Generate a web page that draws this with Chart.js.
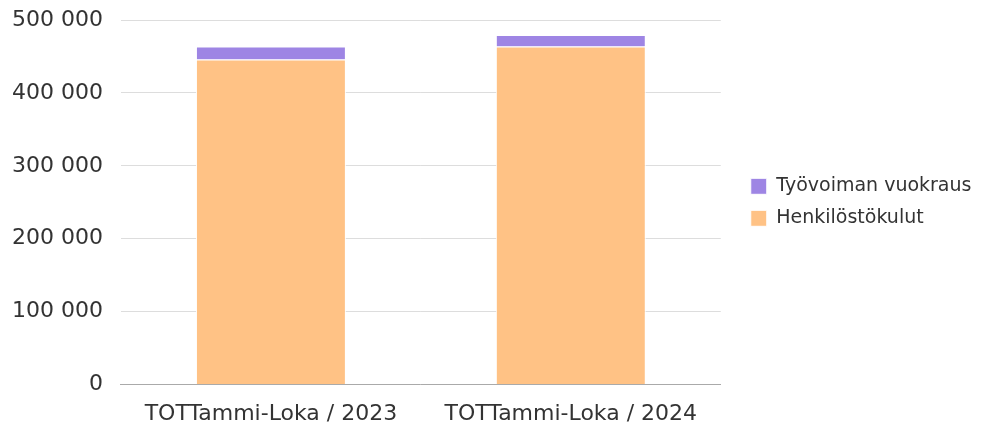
<!DOCTYPE html>
<html>
<head>
<meta charset="utf-8">
<script src="https://cdn.jsdelivr.net/npm/chart.js@4"></script>
<style>
  html, body { margin: 0; padding: 0; background: #fff; }
  #wrap { width: 982px; height: 426px; }
</style>
</head>
<body>
<div id="wrap"><canvas id="chart"></canvas></div>
<script>
const categories = ['TOTTammi-Loka / 2023', 'TOTTammi-Loka / 2024'];
const henkilostokulut = [445700, 463600];
const tyovoimanVuokraus = [18000, 16000];
const yTicks = [0, 100000, 200000, 300000, 400000, 500000];

const fmt = v => String(v).replace(/\B(?=(\d{3})+(?!\d))/g, ' ');
const FONT = 'DejaVu Sans';

// push the legend a bit further away from the plot
const legendShift = {
  id: 'legendShift',
  afterLayout(chart) {
    chart.legend.left += 17;
    chart.legend.right += 17;
  }
};

new Chart(document.getElementById('chart').getContext('2d'), {
  type: 'bar',
  data: {
    labels: categories,
    datasets: [
      {
        label: 'Henkilöstökulut',
        data: henkilostokulut,
        backgroundColor: '#ffc285',
        borderColor: '#ffffff',
        borderWidth: 1,
        categoryPercentage: 1,
        barPercentage: 0.5
      },
      {
        label: 'Työvoiman vuokraus',
        data: tyovoimanVuokraus,
        backgroundColor: '#9e85e4',
        borderColor: '#ffffff',
        borderWidth: 1,
        categoryPercentage: 1,
        barPercentage: 0.5
      }
    ]
  },
  plugins: [legendShift],
  options: {
    responsive: true,
    maintainAspectRatio: false,
    animation: false,
    layout: { padding: { top: 0, right: 19, bottom: -17, left: -6 } },
    plugins: {
      legend: {
        position: 'right',
        fullSize: false,
        reverse: true,
        labels: {
          boxWidth: 16,
          boxHeight: 16,
          padding: 13,
          color: '#333',
          font: { family: FONT, size: 19 }
        }
      },
      tooltip: { enabled: false }
    },
    scales: {
      x: {
        stacked: true,
        grid: { display: false, drawTicks: false },
        border: { color: '#aaaaaa' },
        ticks: { color: '#333', padding: 16, font: { family: FONT, size: 22 } }
      },
      y: {
        stacked: true,
        min: 0,
        max: 500000,
        afterBuildTicks: axis => { axis.ticks = yTicks.map(v => ({ value: v })); },
        afterFit: axis => { axis.paddingTop = 20; },
        grid: { color: '#dddddd', drawTicks: false },
        border: { display: false },
        ticks: {
          color: '#333',
          padding: 18,
          font: { family: FONT, size: 22 },
          callback: v => fmt(v)
        }
      }
    }
  }
});
</script>
</body>
</html>
